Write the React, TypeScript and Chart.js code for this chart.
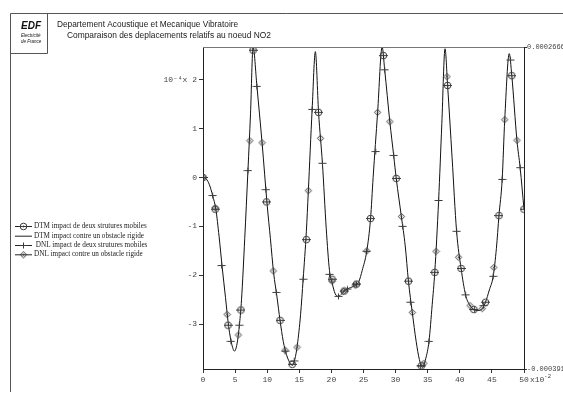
import React, { useEffect, useRef } from "react";
import { Chart, registerables } from "chart.js";

Chart.register(...registerables);

// ---- data (x in 1e-2, y in 1e-4) ----
const curveX = [0, 0.5, 1.0, 1.5, 2.0, 2.5, 3.0, 3.5, 4.0, 4.5, 4.9, 5.3, 5.7, 6.0, 6.5, 7.0, 7.4, 7.8, 8.4, 9.2, 10.0, 10.5, 11.0, 11.5, 12.0, 12.5, 13.0, 13.5, 13.9, 14.3, 14.7, 15.2, 15.6, 16.1, 16.4, 17.0, 17.5, 18.0, 18.6, 19.2, 19.7, 20.1, 20.6, 21.1, 21.6, 22.2, 23.0, 23.8, 24.3, 24.8, 25.5, 26.1, 26.5, 27.2, 27.9, 28.3, 29.1, 29.7, 30.1, 30.9, 31.5, 32.0, 32.6, 33.2, 33.7, 34.2, 34.7, 35.2, 35.7, 36.1, 36.7, 37.2, 37.7, 38.1, 38.8, 39.5, 40.2, 40.9, 41.5, 42.2, 42.8, 43.5, 44.0, 44.6, 45.2, 45.7, 46.1, 46.6, 47.0, 47.7, 48.1, 48.9, 49.4, 50.0];
const curveY = [0, -0.03, -0.15, -0.37, -0.65, -1.2, -1.85, -2.45, -3.05, -3.42, -3.55, -3.4, -2.98, -2.5, -1.25, 0.14, 1.3, 2.666, 1.86, 0.71, -0.57, -1.25, -1.95, -2.42, -2.92, -3.35, -3.62, -3.78, -3.84, -3.72, -3.42, -2.8, -2.08, -1.1, -0.3, 1.39, 2.57, 1.33, 0.29, -1.05, -1.9, -2.15, -2.38, -2.43, -2.38, -2.3, -2.25, -2.2, -2.12, -1.9, -1.51, -0.84, 0.0, 1.33, 2.666, 2.2, 1.14, 0.45, -0.02, -0.8, -1.4, -2.12, -2.76, -3.35, -3.72, -3.88, -3.7, -3.35, -2.6, -1.94, -0.47, 1.1, 2.63, 1.88, 0.4, -1.1, -1.86, -2.4, -2.6, -2.7, -2.72, -2.68, -2.55, -2.3, -2.02, -1.45, -0.78, -0.04, 1.18, 2.53, 2.08, 0.76, 0.2, -0.65];

const circleX = [0, 1.9, 3.9, 5.9, 7.8, 9.9, 12.0, 13.9, 16.1, 18.0, 20.1, 22.0, 23.9, 26.1, 28.1, 30.1, 32.0, 34.0, 36.1, 38.1, 40.2, 42.2, 44.0, 46.1, 48.1, 50.0];
const circleY = [0, -0.65, -3.02, -2.71, 2.6, -0.5, -2.92, -3.82, -1.27, 1.33, -2.08, -2.32, -2.18, -0.84, 2.49, -0.02, -2.12, -3.85, -1.94, 1.88, -1.86, -2.7, -2.55, -0.78, 2.08, -0.65];

const plusX = [1.5, 2.9, 4.35, 5.65, 7.0, 8.4, 9.8, 11.4, 12.8, 14.2, 15.6, 17.0, 18.6, 19.7, 21.1, 22.5, 23.9, 25.5, 26.9, 28.3, 29.7, 31.1, 32.3, 33.9, 35.2, 36.7, 38.1, 39.5, 40.9, 42.3, 43.7, 45.2, 46.6, 47.9, 49.4];
const plusY = [-0.37, -1.8, -3.35, -3.02, 0.14, 1.86, -0.25, -2.35, -3.55, -3.75, -2.08, 1.39, 0.29, -1.98, -2.43, -2.28, -2.18, -1.51, 0.53, 2.2, 0.45, -1.0, -2.55, -3.85, -3.35, -0.47, 1.88, -1.1, -2.4, -2.7, -2.62, -2.02, -0.04, 2.4, 0.2];

const diamondX = [0, 1.9, 3.75, 5.5, 7.3, 9.2, 10.95, 12.8, 14.65, 16.4, 18.3, 20.1, 21.9, 23.7, 25.5, 27.2, 29.1, 30.9, 32.6, 34.4, 36.3, 38.0, 39.8, 41.6, 43.5, 45.3, 47.0, 48.9];
const diamondY = [0, -0.62, -2.8, -3.22, 0.75, 0.71, -1.91, -3.53, -3.47, -0.27, 0.8, -2.12, -2.33, -2.2, -1.5, 1.33, 1.14, -0.8, -2.76, -3.8, -1.51, 2.06, -1.63, -2.62, -2.68, -1.84, 1.18, 0.76];

const xTicks = [0, 5, 10, 15, 20, 25, 30, 35, 40, 45, 50];
const yTicks = [-3, -2, -1, 0, 1, 2];
const yMin = -3.915;
const yMax = 2.666;

const seriesLabels = [
  "DTM impact de deux strutures mobiles",
  "DTM impact contre un obstacle rigide",
  " DNL impact de deux strutures mobiles",
  "DNL impact contre un obstacle rigide",
];

const headerLine1 = "Departement Acoustique et Mecanique Vibratoire";
const headerLine2 = "Comparaison des deplacements relatifs au noeud NO2";

const MARK = "#3a3a3a";
const MONO = "'Liberation Mono', 'DejaVu Sans Mono', monospace";

function makeCircle() {
  const c = document.createElement("canvas");
  c.width = 9; c.height = 9;
  const g = c.getContext("2d")!;
  g.strokeStyle = MARK; g.lineWidth = 1;
  g.beginPath(); g.arc(4.5, 4.5, 3.3, 0, Math.PI * 2); g.stroke();
  g.fillStyle = MARK;
  g.beginPath(); g.arc(4.5, 4.5, 0.9, 0, Math.PI * 2); g.fill();
  g.beginPath(); g.moveTo(0, 4.5); g.lineTo(9, 4.5); g.stroke();
  return c;
}
function makeDiamond() {
  const c = document.createElement("canvas");
  c.width = 9; c.height = 9;
  const g = c.getContext("2d")!;
  g.strokeStyle = MARK; g.lineWidth = 1;
  g.beginPath(); g.moveTo(4.5, 1.3); g.lineTo(7.7, 4.5); g.lineTo(4.5, 7.7); g.lineTo(1.3, 4.5); g.closePath(); g.stroke();
  g.fillStyle = MARK;
  g.beginPath(); g.arc(4.5, 4.5, 0.9, 0, Math.PI * 2); g.fill();
  return c;
}
function makePlus() {
  const c = document.createElement("canvas");
  c.width = 9; c.height = 9;
  const g = c.getContext("2d")!;
  g.strokeStyle = MARK; g.lineWidth = 1;
  g.beginPath(); g.moveTo(0.5, 4.5); g.lineTo(8.5, 4.5); g.moveTo(4.5, 1.5); g.lineTo(4.5, 7.5); g.stroke();
  return c;
}

const pts = (xs: number[], ys: number[]) => xs.map((x, i) => ({ x, y: ys[i] }));

export default function App() {
  const ref = useRef<HTMLCanvasElement>(null);

  useEffect(() => {
    if (!ref.current) return;
    const circle = makeCircle();
    const diamond = makeDiamond();
    const plus = makePlus();
    const legendIcons: (HTMLCanvasElement | null)[] = [circle, null, plus, diamond];

    const decor = {
      id: "decor",
      afterDraw(chart: any) {
        const ctx = chart.ctx as CanvasRenderingContext2D;
        const ca = chart.chartArea;
        ctx.save();
        // page frame
        ctx.strokeStyle = "#555";
        ctx.lineWidth = 1;
        ctx.beginPath();
        ctx.moveTo(10.5, 13.5); ctx.lineTo(563, 13.5);
        ctx.moveTo(10.5, 13.5); ctx.lineTo(10.5, 392);
        ctx.moveTo(47.5, 13.5); ctx.lineTo(47.5, 53.5);
        ctx.moveTo(10.5, 53.5); ctx.lineTo(47.5, 53.5);
        ctx.stroke();
        // top border of plot
        ctx.strokeStyle = "#777";
        ctx.beginPath();
        ctx.moveTo(ca.left, ca.top + 0.5); ctx.lineTo(ca.right, ca.top + 0.5);
        ctx.stroke();
        // logo
        ctx.fillStyle = "#111";
        ctx.textBaseline = "alphabetic";
        ctx.textAlign = "left";
        ctx.font = "italic bold 10px 'Liberation Sans', Arial, sans-serif";
        ctx.fillText("EDF", 21, 29);
        ctx.font = "italic 4.5px 'Liberation Sans', Arial, sans-serif";
        ctx.fillText("Electricité", 21, 37);
        ctx.fillText("de France", 21, 43);
        // header
        ctx.fillStyle = "#1a1a1a";
        ctx.textBaseline = "middle";
        ctx.font = "8.3px 'Liberation Sans', Arial, sans-serif";
        ctx.fillText(headerLine1, 57, 25);
        ctx.font = "8.4px 'Liberation Sans', Arial, sans-serif";
        ctx.fillText(headerLine2, 67, 35.5);
        // x exponent
        ctx.fillStyle = "#444";
        ctx.font = "8px " + MONO;
        ctx.fillText("x10", 530, 380);
        ctx.font = "6px " + MONO;
        ctx.fillText("-2", 544, 376);
        // legend
        const ys = [226, 235.7, 245, 254.3];
        chart.data.datasets.forEach((ds: any, i: number) => {
          const y = ys[i];
          ctx.strokeStyle = "#222";
          ctx.lineWidth = 1;
          ctx.beginPath();
          ctx.moveTo(15, y + 0.5); ctx.lineTo(32, y + 0.5);
          ctx.stroke();
          const icon = legendIcons[i];
          if (icon) ctx.drawImage(icon, 23.5 - 4.5, y + 0.5 - 4.5);
          ctx.fillStyle = "#1a1a1a";
          ctx.font = "7.2px 'Liberation Serif', 'Times New Roman', serif";
          ctx.textBaseline = "middle";
          ctx.fillText(ds.label, 34, y);
        });
        ctx.restore();
      },
    };

    const chart = new Chart(ref.current, {
      type: "scatter",
      data: {
        datasets: [
          { label: seriesLabels[0], data: pts(circleX, circleY), showLine: false, pointStyle: circle as any, pointRadius: 4, order: 0 },
          { label: seriesLabels[1], data: pts(curveX, curveY), showLine: true, pointRadius: 0, borderColor: "#111", borderWidth: 1, cubicInterpolationMode: "monotone", order: 10 } as any,
          { label: seriesLabels[2], data: pts(plusX, plusY), showLine: false, pointStyle: plus as any, pointRadius: 4, order: 0 },
          { label: seriesLabels[3], data: pts(diamondX, diamondY), showLine: false, pointStyle: diamond as any, pointRadius: 4, order: 0 },
        ],
      },
      options: {
        responsive: false,
        animation: false,
        devicePixelRatio: 1,
        layout: { padding: { top: 47, left: 0, right: 0, bottom: 0 } },
        plugins: { legend: { display: false }, tooltip: { enabled: false } },
        scales: {
          x: {
            type: "linear",
            position: "bottom",
            min: 0,
            max: 50,
            afterBuildTicks: (s: any) => { s.ticks = xTicks.map((v) => ({ value: v })); },
            afterFit: (s: any) => { s.height = 32; },
            ticks: { color: "#444", font: { family: MONO, size: 8 }, padding: 2, maxRotation: 0, autoSkip: false, callback: (v: any) => String(v) },
            grid: { display: true, drawOnChartArea: false, drawTicks: true, tickLength: 4, color: "#333" },
            border: { display: true, color: "#222", width: 1 },
          },
          y: {
            type: "linear",
            position: "left",
            min: yMin,
            max: yMax,
            afterBuildTicks: (s: any) => { s.ticks = yTicks.map((v) => ({ value: v })); },
            afterFit: (s: any) => { s.width = 203; },
            ticks: { color: "#444", font: { family: MONO, size: 8 }, padding: 2, callback: (v: any) => (v === 2 ? "10⁻⁴x 2" : String(v)) },
            grid: { display: true, drawOnChartArea: false, drawTicks: true, tickLength: 4, color: "#333" },
            border: { display: true, color: "#222", width: 1 },
          },
          y2: {
            type: "linear",
            position: "right",
            min: yMin,
            max: yMax,
            afterBuildTicks: (s: any) => { s.ticks = [yMin, yMax].map((v) => ({ value: v })); },
            afterFit: (s: any) => { s.width = 39; },
            ticks: { color: "#444", font: { family: MONO, size: 7 }, padding: 0, callback: (v: any) => (v * 1e-4).toFixed(7) },
            grid: { display: true, drawOnChartArea: false, drawTicks: true, tickLength: 3, color: "#333" },
            border: { display: true, color: "#222", width: 1 },
          },
        },
      },
      plugins: [decor],
    } as any);
    return () => chart.destroy();
  }, []);

  return (
    <div style={{ position: "absolute", left: 0, top: 0, width: 563, height: 401, background: "#fff" }}>
      <canvas ref={ref} width={563} height={401} style={{ display: "block", width: 563, height: 401 }} />
    </div>
  );
}
